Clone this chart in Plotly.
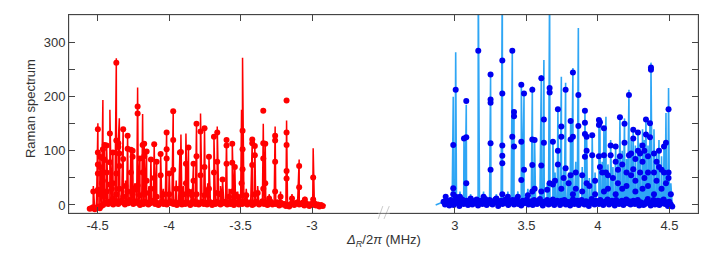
import numpy as np
import plotly.graph_objects as go

# ---------------- data ----------------
# Left branch (negative detuning), red
red_peak_x = [-4.530, -4.498, -4.484, -4.470, -4.463, -4.451, -4.437, -4.414, -4.400, -4.393,
              -4.369, -4.355, -4.348, -4.321, -4.305, -4.290, -4.267, -4.255, -4.240, -4.220,
              -4.204, -4.185, -4.174, -4.157, -4.140, -4.127, -4.104, -4.087, -4.059, -4.040,
              -4.017, -3.999, -3.971, -3.950, -3.924, -3.917, -3.900, -3.882, -3.864, -3.840,
              -3.829, -3.808, -3.780, -3.752, -3.730, -3.721, -3.686, -3.663, -3.640, -3.626,
              -3.598, -3.580, -3.558, -3.540, -3.520, -3.493, -3.486, -3.460, -3.418, -3.400,
              -3.380, -3.341, -3.327, -3.300, -3.258, -3.220, -3.178, -3.140, -3.090, -3.050,
              -2.992]
red_peak_top = [35, 151, 95, 60, 194, 115, 112, 176, 50, 100,
                271, 118, 160, 142, 45, 130, 103, 102, 40, 217,
                88, 168, 115, 100, 35, 86, 113, 82, 96, 30,
                136, 60, 174, 45, 100, 130, 35, 132, 108, 30,
                78, 150, 169, 143, 40, 91, 127, 145, 35, 48,
                122, 30, 115, 72, 25, 176, 272, 30, 123, 111,
                35, 150, 116, 20, 145, 25, 156, 20, 84, 15,
                105]
red_peak_pts = [[25], [140, 97, 75, 58, 28], [89, 70, 20], [40], [103, 86, 45], [111, 83, 15],
                [110, 60, 25], [132, 79, 38], [30], [97, 40, 12],
                [263, 119, 58, 20], [114, 107], [95, 72, 30], [140, 85, 15], [35], [128, 104, 25],
                [102, 60], [100, 89, 20], [28], [182, 169, 36],
                [86, 18], [111, 60], [113, 90, 22], [99, 45], [22], [84, 30], [112, 50], [80, 15],
                [94, 55], [20],
                [134, 103, 86], [58, 20], [173, 120, 65], [30], [97, 30], [98, 15], [20], [76, 40],
                [106, 25], [18],
                [76, 45], [150, 90, 20], [136, 55], [142, 70, 18], [25], [89, 30], [126, 60],
                [134, 80, 22], [20], [47],
                [120, 110, 76], [15], [113, 78, 25], [70, 20], [15], [40], [137, 103, 66, 18], [18],
                [121, 114, 74], [109, 92, 20],
                [22], [174, 114, 86, 30], [113, 40], [12], [128, 119, 80, 25], [15],
                [193, 134, 111, 63, 49], [12], [72, 33], [10],
                [51, 10]]
red_base_y = [-7, -6, -4, -8, -5, -3, -6, -2, 0, 3, 5, 2, 6, 4, 1, 3, 7, 2, 5, 8,
              4, 1, 6, 3, 9, 5, 2, 4, 7, 3, 0, 5, 2, 6, 4, 1, 3, 5, 8, 2,
              4, 0, 3, 6, 2, 5, 1, 4, 7, 3, 2, 5, 0, 3, 6, 1, 4, 2, 5, 3,
              0, 4, 7, 2, 5, 1, 3, 6, 2, 4, 1, 3, 5, 0, 4, 2, 6, 3, 1, 5,
              3, 6, 1, 4, 2, 7, 0, 5, 3, 1, 6, 2, 4, 8, 1, 3, 5, 0, 2, 6,
              4, 1, 3, 7, 2, 5, 0, 4, 6, 1, 3, 2, 5, -1, 4, 1, 2, -2, 0, -3,
              2, 4, 0, 3, 5, 1, 2, 4, -1, 3, 1, -2, 2, 0, 3, -1, 1, -3, 0, -2]
red_base_span = [-4.555, -2.925]
red_line_ends_x = [-4.565, -2.905]
red_line_ends_y = [-3, 0]

# Right branch (positive detuning), blue
blue_peak_x = [2.935, 2.988, 3.005, 3.035, 3.063, 3.079, 3.110, 3.163, 3.200, 3.249,
               3.290, 3.331, 3.370, 3.401, 3.413, 3.440, 3.464, 3.483, 3.510, 3.541,
               3.557, 3.604, 3.622, 3.645, 3.662, 3.685, 3.700, 3.720, 3.744, 3.760,
               3.774, 3.795, 3.809, 3.825, 3.845, 3.863, 3.890, 3.909, 3.921, 3.940,
               3.960, 3.980, 4.007, 4.014, 4.030, 4.042, 4.056, 4.070, 4.089, 4.105,
               4.124, 4.140, 4.154, 4.170, 4.186, 4.200, 4.217, 4.232, 4.247, 4.262,
               4.280, 4.295, 4.312, 4.325, 4.336, 4.350, 4.364, 4.371, 4.392, 4.410,
               4.427, 4.445, 4.462, 4.476, 4.494, 4.510]
blue_peak_top = [20, 200, 282, 25, 126, 185, 20, 420, 25, 238,
                 20, 420, 25, 290, 175, 25, 225, 208, 30, 219,
                 120, 240, 268, 40, 420, 120, 60, 179, 237, 70,
                 226, 60, 160, 253, 80, 327, 70, 176, 131, 50,
                 130, 60, 160, 153, 80, 142, 163, 75, 120, 70,
                 110, 90, 165, 100, 160, 85, 213, 120, 140, 110,
                 135, 115, 140, 120, 160, 110, 150, 263, 140, 100,
                 120, 90, 110, 170, 216, 40]
blue_peak_pts = [[15], [111, 31, 20], [213, 15], [15], [123], [192, 125, 40], [12], [285], [15],
                 [241, 195, 189, 114, 65],
                 [12], [267, 206, 110, 91, 77, 20], [15], [285, 126], [172, 164, 108], [15],
                 [222, 117, 46], [206, 65], [18], [213, 121, 74, 25],
                 [120, 30], [234, 73, 25], [158, 115], [28], [216, 208, 40], [117, 38], [45],
                 [177, 100, 75], [145, 126, 30], [50],
                 [213, 68], [40], [155, 121, 55], [245, 126, 20], [60, 30], [203, 146], [55, 25],
                 [174, 152, 131, 89], [126, 100, 40], [35],
                 [129, 92], [45, 20], [157, 148, 90], [153, 70], [60], [142, 92, 25], [60], [55, 30],
                 [92, 110], [50],
                 [108, 80, 20], [65, 40], [162, 90], [75, 30], [150, 115], [60, 35], [203, 92],
                 [95, 55], [139, 123, 66], [85, 45, 25],
                 [134, 100], [95, 60], [110, 80, 30], [100, 50], [158, 130], [90, 60, 35], [151, 125],
                 [254, 250], [95, 60, 20], [80, 45],
                 [100, 70], [65, 30], [108, 60], [115, 40], [177, 60, 50], [20]]
blue_base_y = [6, 1, 8, 4, -1, 9, 5, 0, 7, 11, 3, -2, 6, 10, 2, 5, 8, 0, 4, 9,
               1, 7, 3, 10, -1, 5, 8, 2, 6, 11, 0, 4, 9, 3, 1, 7, 10, 4, -2, 6,
               8, 2, 5, 10, 3, 0, 7, 4, 9, 1, 6, 11, 2, 5, -1, 8, 3, 6, 10, 1,
               4, 7, 0, 9, 5, 2, 8, 11, 3, -1, 6, 4, 9, 1, 7, 3, 10, 0, 5, 8,
               5, 0, 8, 3, 9, 1, 6, 4, -1, 7, 10, 2, 5, 8, 0, 3, 9, 6, 1, 7,
               4, -2, 6, 11, 3, 1, 8, 5, 2, 9, 6, 0, 4, 7, 10, 1, 3, 8, 5, -1,
               9, 4, 2, 6, 8, 0, 5, 10, 3, 7, 1, 4, 8, 2, 6, 9, -1, 5, 3, 0,
               2, 6, 11, 3, -1, 5, 9, 1, 4, 8, 0, 7, 3, 10, 2, 5, -2, 6, 1, -3]
blue_base_span = [2.92, 4.52]
blue_line_ends_x = [2.865, 4.53]
blue_line_ends_y = [0, -2]

left_ticks = [-4.5, -4, -3.5, -3]
left_ticktext = ['-4.5', '-4', '-3.5', '-3']
right_ticks = [3, 3.5, 4, 4.5]
right_ticktext = ['3', '3.5', '4', '4.5']
y_ticks = [0, 100, 200, 300]
y_minor_ticks = [50, 150, 250]


def build(peak_x, peak_top, peak_pts, base_y, span, ends_x, ends_y):
    base_x = np.linspace(span[0], span[1], len(base_y))
    line = sorted(list(zip(base_x, base_y)) + list(zip(peak_x, peak_top))
                  + list(zip(ends_x, ends_y)))
    lx = [p[0] for p in line]
    ly = [p[1] for p in line]
    mx = list(base_x)
    my = list(base_y)
    for x, pts in zip(peak_x, peak_pts):
        for v in pts:
            mx.append(x)
            my.append(v)
    return lx, ly, mx, my


rlx, rly, rmx, rmy = build(red_peak_x, red_peak_top, red_peak_pts, red_base_y,
                           red_base_span, red_line_ends_x, red_line_ends_y)
blx, bly, bmx, bmy = build(blue_peak_x, blue_peak_top, blue_peak_pts, blue_base_y,
                           blue_base_span, blue_line_ends_x, blue_line_ends_y)

RED = '#FF0000'
BLUE_LINE = '#2EA6F5'
BLUE_MK = '#0000F0'
AX = '#444444'

fig = go.Figure()
fig.add_trace(go.Scatter(x=rlx, y=rly, mode='lines', line=dict(color=RED, width=1.5),
                         xaxis='x', yaxis='y', hoverinfo='skip'))
fig.add_trace(go.Scatter(x=rmx, y=rmy, mode='markers', marker=dict(color=RED, size=6),
                         xaxis='x', yaxis='y'))
fig.add_trace(go.Scatter(x=blx, y=bly, mode='lines', line=dict(color=BLUE_LINE, width=1.6),
                         xaxis='x2', yaxis='y2', hoverinfo='skip'))
fig.add_trace(go.Scatter(x=bmx, y=bmy, mode='markers', marker=dict(color=BLUE_MK, size=6),
                         xaxis='x2', yaxis='y2'))

xcommon = dict(ticks='inside', ticklen=6, tickwidth=1, tickcolor=AX, showline=True,
               linecolor=AX, linewidth=1, mirror='ticks', showgrid=False, zeroline=False)
ycommon = dict(range=[-14.8, 351], tickvals=y_ticks, ticks='inside',
               ticklen=6, tickwidth=1, tickcolor=AX, showline=True, linecolor=AX,
               linewidth=1, showgrid=False, zeroline=False,
               minor=dict(tickvals=y_minor_ticks, ticks='inside', ticklen=6,
                          tickwidth=1, tickcolor=AX, showgrid=False))

fig.update_layout(
    template='simple_white',
    width=699, height=261,
    margin=dict(l=61, r=9, t=7, b=56),
    paper_bgcolor='white', plot_bgcolor='white', showlegend=False,
    font=dict(family='Liberation Sans, Arial, sans-serif', size=13, color='#333333'),
    xaxis=dict(domain=[0, 0.5], range=[-4.70, -2.50], tickvals=left_ticks,
               ticktext=left_ticktext, anchor='y', **xcommon),
    xaxis2=dict(domain=[0.5, 1], range=[2.50, 4.70], tickvals=right_ticks,
                ticktext=right_ticktext, anchor='y2', **xcommon),
    yaxis=dict(anchor='x', side='left', **ycommon),
    yaxis2=dict(anchor='x2', side='right', showticklabels=False, **ycommon),
    annotations=[
        dict(text='Raman spectrum', textangle=-90, xref='paper', yref='paper',
             x=-0.062, y=0.525, xanchor='center', yanchor='middle', showarrow=False,
             font=dict(size=13, color='#333333')),
        dict(text='<i>Δ</i><sub><i>R</i></sub>/2<i>π</i> (MHz)', xref='paper', yref='paper',
             x=0.5, y=-0.141, xanchor='center', yanchor='middle', showarrow=False,
             font=dict(size=13, color='#333333')),
    ],
    shapes=[
        dict(type='rect', xref='paper', yref='paper', x0=0, x1=1, y0=0, y1=1,
             line=dict(color=AX, width=1), fillcolor='rgba(0,0,0,0)', layer='above'),
        dict(type='rect', xref='paper', yref='paper', x0=0.4915, x1=0.5100, y0=-0.012,
             y1=0.012, fillcolor='white', line=dict(width=0), layer='above'),
        dict(type='line', xref='paper', yref='paper', x0=0.4917, y0=-0.030, x1=0.4989,
             y1=0.035, line=dict(color='#555555', width=1), layer='above'),
        dict(type='line', xref='paper', yref='paper', x0=0.5008, y0=-0.030, x1=0.5092,
             y1=0.035, line=dict(color='#555555', width=1), layer='above'),
    ],
)

fig.write_html('out.html')
